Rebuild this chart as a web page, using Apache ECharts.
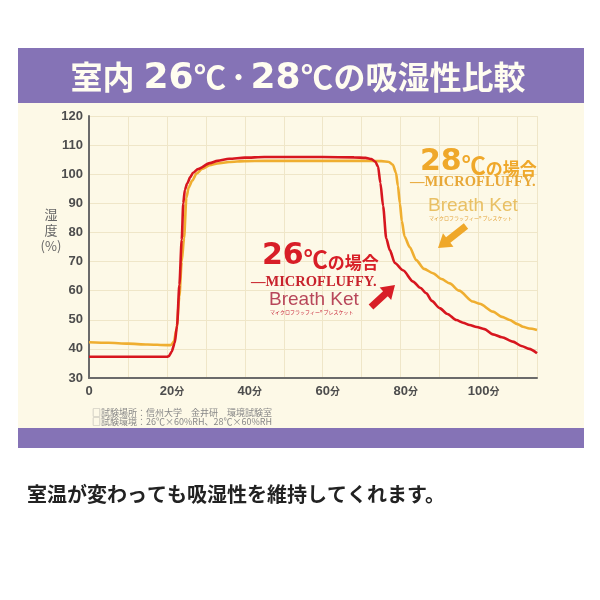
<!DOCTYPE html>
<html><head><meta charset="utf-8">
<script src="https://cdn.jsdelivr.net/npm/echarts@6/dist/echarts.min.js"></script>
<style>html,body{margin:0;padding:0;background:#fff}#c{width:600px;height:600px}</style>
</head><body><div id="c"></div>
<script>
// ---- data (minutes, humidity %) ----
const time26 = [0,10,20,20.5,21.2,22,22.6,23.2,23.8,24.2,24.6,25.2,26,26.7,28,31,33,36,40,45,50,60,68,71,72.5,73.5,74.2,74.8,75.5,76.3,77.2,78.5,80.6,83.2,85,86.6,88,90,92,94.3,96,97.7,99.5,101.5,103.7,106,108.8,111,113,115];
const hum26  = [37.3,37.3,37.3,37.5,39,42,48,62,77.5,90,94.6,96.8,99,100.5,101.8,103.8,104.6,105.3,105.7,105.9,105.9,105.9,105.8,105.6,105.2,104.3,102.6,97,89,78,74,69.5,67,63.1,61,59.1,56.5,54,52,49.9,49,48.2,47.5,46.8,45,44,42.5,41,40,38.5];
const time28 = [0,5,10,15,20,21,21.8,22.5,23.2,23.8,24.4,25,25.6,26.5,27.6,29,31,33,36,40,45,50,60,70,75,77,78,78.8,79.3,79.8,80.3,81,82.3,84,86,88.3,90.5,92.6,95,98.5,100.3,103.7,106,108,110,111.4,113,115];
const hum28  = [42.3,42.1,41.8,41.5,41.3,41.3,42.5,47,58,70,78,92,95.5,97.8,100.2,101.8,103.1,103.7,104.2,104.5,104.6,104.6,104.6,104.6,104.5,104.2,103.2,100.5,96,90,84,78.6,75,70.5,67.5,66,64,62.5,60,56.3,55.5,52.8,51,49.9,48.5,47.6,47,46.5];
const xLabelTicks = [0,20,40,60,80,100];
const yTickValues = [30,40,50,60,70,80,90,100,110,120];
const seriesNames = ['28℃の場合','26℃の場合'];

const zip = (a,b) => a.map((t,i)=>[t,b[i]]);
const CJK = '"Noto Sans CJK JP","Noto Sans",sans-serif';
const DJ = '"DejaVu Sans",sans-serif';
const LS = '"Liberation Sans",sans-serif';

function arrowPoints(x1,y1,x2,y2,sw,hw,hl){
  const dx=x2-x1, dy=y2-y1, L=Math.hypot(dx,dy), ux=dx/L, uy=dy/L, px=-uy, py=ux;
  const bx=x2-ux*hl, by=y2-uy*hl;
  return [[x1+px*sw,y1+py*sw],[bx+px*sw,by+py*sw],[bx+px*hw,by+py*hw],[x2,y2],
          [bx-px*hw,by-py*hw],[bx-px*sw,by-py*sw],[x1-px*sw,y1-py*sw]];
}
function tempRich(col){
  return {
    n:{fontSize:30,fontWeight:'bold',fontFamily:DJ,fill:col,verticalAlign:'bottom'},
    d:{fontSize:24,fontWeight:'bold',fontFamily:CJK,fill:col,verticalAlign:'bottom'},
    c:{fontSize:17,fontWeight:'bold',fontFamily:CJK,fill:col,verticalAlign:'bottom'}
  };
}

const chart = echarts.init(document.getElementById('c'));
const option = {
  backgroundColor:'#ffffff',
  animation:false,
  grid:{left:89,right:63,top:116,bottom:222,containLabel:false},
  xAxis:{
    type:'value',min:0,max:115,interval:10,
    axisLine:{show:true,lineStyle:{color:'#6b6b6b',width:2}},
    axisTick:{show:false},
    splitLine:{show:true,lineStyle:{color:'#efe6c8',width:1}},
    axisLabel:{
      margin:7,color:'#4d4d4d',
      formatter:v=> xLabelTicks.indexOf(v)<0 ? '' : (v===0 ? '{n|0}' : '{s| }{n|'+v+'}{u|分}'),
      rich:{
        n:{fontSize:13,fontWeight:'bold',color:'#4d4d4d',fontFamily:LS},
        u:{fontSize:10,fontWeight:'bold',color:'#4d4d4d',fontFamily:CJK,width:10},
        s:{fontSize:10,width:10}
      }
    }
  },
  yAxis:{
    type:'value',min:30,max:120,interval:10,
    axisLine:{show:true,lineStyle:{color:'#6b6b6b',width:2}},
    axisTick:{show:false},
    splitLine:{show:true,lineStyle:{color:'#efe6c8',width:1}},
    axisLabel:{margin:6,fontSize:13,fontWeight:'bold',color:'#4d4d4d',fontFamily:LS,
      formatter:v=> yTickValues.indexOf(v)>=0 ? String(v) : ''}
  },
  series:[
    {name:seriesNames[0],type:'line',data:zip(time28,hum28),showSymbol:false,smooth:0.25,smoothMonotone:'x',
     lineStyle:{color:'#efae30',width:2.6},z:3},
    {name:seriesNames[1],type:'line',data:zip(time26,hum26),showSymbol:false,smooth:0.25,smoothMonotone:'x',
     lineStyle:{color:'#d7161f',width:2.6},z:4}
  ],
  graphic:[
    {type:'rect',z:-1,shape:{x:18,y:103,width:566,height:325},style:{fill:'#fdf9e7'}},
    {type:'rect',z:-1,shape:{x:18,y:48,width:566,height:55},style:{fill:'#8573b6'}},
    {type:'rect',z:-1,shape:{x:18,y:428,width:566,height:20},style:{fill:'#8573b6'}},
    {type:'text',z:100,x:298,y:77,style:{
      text:'{c|室内}{g| }{n|26}{d|℃}{p|・}{n|28}{d|℃}{c|の吸湿性比較}',
      align:'center',verticalAlign:'middle',fill:'#fff',
      rich:{
        c:{fontSize:32,fontWeight:'bold',fontFamily:CJK,fill:'#fffdf0'},
        g:{fontSize:10,width:9,fill:'#fff'},
        n:{fontSize:36,fontWeight:'bold',fontFamily:DJ,fill:'#fffdf0',padding:[4,0,0,0]},
        d:{fontSize:32,fontWeight:'bold',fontFamily:CJK,fill:'#fffdf0',width:33},
        p:{fontSize:24,fontWeight:'bold',fontFamily:CJK,fill:'#fffdf0'}
      }}},
    // y axis name
    {type:'text',z:100,x:51,y:230,style:{text:'湿\n度\n(%)',align:'center',verticalAlign:'middle',
      fontSize:13,lineHeight:16,fontFamily:CJK,fill:'#666'}},
    // 28 annotation
    {type:'text',z:100,x:420,y:177,style:{
      text:'{n|28}{d|℃}{c|の場合}',align:'left',verticalAlign:'bottom',rich:tempRich('#efa82a')}},
    {type:'text',z:100,x:410,y:182,style:{text:'—MICROFLUFFY.',align:'left',verticalAlign:'middle',
      fontSize:14.5,fontWeight:'bold',fontFamily:'"Liberation Serif",serif',fill:'#e8a838'}},
    {type:'text',z:100,x:428,y:206,style:{text:'Breath Ket',align:'left',verticalAlign:'middle',
      fontSize:19,fontFamily:LS,fill:'#e9c064'}},
    {type:'text',z:100,x:429,y:218,style:{text:'マイクロフラッフィー® ブレスケット',align:'left',verticalAlign:'middle',
      fontSize:5,fontFamily:CJK,fill:'#e3a33a'}},
    {type:'polygon',z:100,shape:{points:arrowPoints(466,226,438,248,3.5,8.5,13)},style:{fill:'#efa82a'}},
    // 26 annotation
    {type:'text',z:100,x:262,y:271,style:{
      text:'{n|26}{d|℃}{c|の場合}',align:'left',verticalAlign:'bottom',rich:tempRich('#d81e27')}},
    {type:'text',z:100,x:251,y:282,style:{text:'—MICROFLUFFY.',align:'left',verticalAlign:'middle',
      fontSize:14.5,fontWeight:'bold',fontFamily:'"Liberation Serif",serif',fill:'#c8222c'}},
    {type:'text',z:100,x:269,y:300,style:{text:'Breath Ket',align:'left',verticalAlign:'middle',
      fontSize:19,fontFamily:LS,fill:'#b8475a'}},
    {type:'text',z:100,x:270,y:312,style:{text:'マイクロフラッフィー® ブレスケット',align:'left',verticalAlign:'middle',
      fontSize:5,fontFamily:CJK,fill:'#c8283a'}},
    {type:'polygon',z:100,shape:{points:arrowPoints(371,307,395,285,3.5,8.5,13)},style:{fill:'#d81e27'}},
    // footnotes
    {type:'text',z:100,x:92,y:412.5,style:{text:'□試験場所：信州大学　金井研　環境試験室',align:'left',verticalAlign:'middle',
      fontSize:9,fontFamily:CJK,fill:'#888'}},
    {type:'text',z:100,x:92,y:421.5,style:{text:'□試験環境：26℃×60%RH、28℃×60%RH',align:'left',verticalAlign:'middle',
      fontSize:9,fontFamily:CJK,fill:'#888'}},
    // bottom caption
    {type:'text',z:100,x:27,y:494,style:{text:'室温が変わっても吸湿性を維持してくれます。',align:'left',verticalAlign:'middle',
      fontSize:20,fontWeight:'bold',fontFamily:CJK,fill:'#222'}}
  ]
};
chart.setOption(option);
</script></body></html>
